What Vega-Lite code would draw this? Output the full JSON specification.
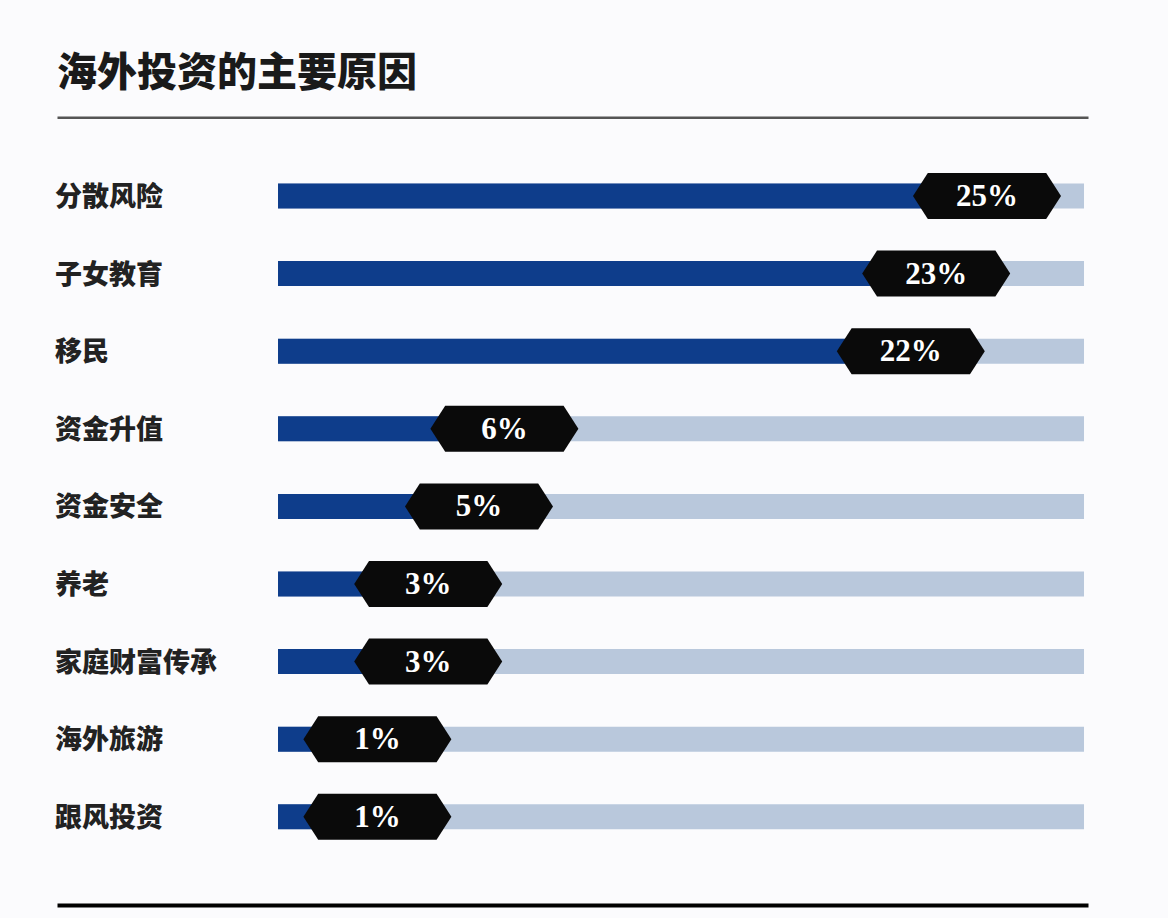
{
  "$schema": "https://vega.github.io/schema/vega-lite/v6.json",
  "autosize": {"type": "none"},
  "width": 1031,
  "height": 698.4,
  "padding": {"left": 57, "top": 157.2, "right": 80, "bottom": 62.4},
  "background": "#fbfbfd",
  "title": {
    "text": "海外投资的主要原因",
    "anchor": "start",
    "frame": "group",
    "font": "Noto Sans CJK SC",
    "fontSize": 40,
    "fontWeight": 900,
    "color": "#1a1a1a",
    "offset": 23
  },
  "data": {
    "values": [
      {"reason": "分散风险", "share": 0.25},
      {"reason": "子女教育", "share": 0.23},
      {"reason": "移民", "share": 0.22},
      {"reason": "资金升值", "share": 0.06},
      {"reason": "资金安全", "share": 0.05},
      {"reason": "养老", "share": 0.03},
      {"reason": "家庭财富传承", "share": 0.03},
      {"reason": "海外旅游", "share": 0.01},
      {"reason": "跟风投资", "share": 0.01}
    ]
  },
  "encoding": {
    "y": {
      "field": "reason",
      "type": "nominal",
      "sort": null,
      "axis": null,
      "scale": {"paddingInner": 0, "paddingOuter": 0}
    }
  },
  "layer": [
    {
      "mark": {"type": "point", "opacity": 0},
      "encoding": {
        "x": {
          "field": "share",
          "type": "quantitative",
          "scale": {"domain": [-0.11614, 0.28976], "nice": false, "zero": false},
          "axis": {"orient": "top", "domain": true, "domainColor": "#555555", "domainWidth": 2.5, "ticks": false, "labels": false, "grid": false, "title": null, "offset": 40}
        }
      }
    },
    {
      "mark": {"type": "bar", "color": "#b9c8dc", "size": 25, "orient": "horizontal"},
      "encoding": {
        "x": {"datum": 0.28819, "type": "quantitative", "axis": null},
        "x2": {"datum": -0.02913}
      }
    },
    {
      "mark": {"type": "bar", "color": "#0e3d8b", "size": 25, "orient": "horizontal"},
      "encoding": {
        "x": {"field": "share", "type": "quantitative", "axis": null},
        "x2": {"datum": -0.02913}
      }
    },
    {
      "mark": {
        "type": "point",
        "shape": "M -1 0 L -0.8 -0.311 L 0.8 -0.311 L 1 0 L 0.8 0.311 L -0.8 0.311 Z",
        "size": 21904,
        "filled": true,
        "color": "#0a0a0a",
        "opacity": 1
      },
      "encoding": {
        "x": {
          "field": "share",
          "type": "quantitative",
          "axis": {"orient": "bottom", "domain": true, "domainColor": "#000000", "domainWidth": 4, "ticks": false, "labels": false, "grid": false, "title": null, "offset": 49.4}
        }
      }
    },
    {
      "mark": {
        "type": "text",
        "font": "Liberation Serif",
        "fontSize": 31,
        "fontWeight": "bold",
        "color": "#ffffff",
        "align": "center",
        "baseline": "middle",
        "dy": 1
      },
      "encoding": {
        "x": {"field": "share", "type": "quantitative", "axis": null},
        "text": {"field": "share", "type": "quantitative", "format": ".0%"}
      }
    },
    {
      "mark": {
        "type": "text",
        "font": "Noto Sans CJK SC",
        "fontSize": 27,
        "fontWeight": 900,
        "color": "#222222",
        "align": "left",
        "baseline": "middle",
        "dx": -2,
        "dy": 2
      },
      "encoding": {
        "x": {"datum": -0.11614, "type": "quantitative", "axis": null},
        "text": {"field": "reason", "type": "nominal"}
      }
    }
  ],
  "resolve": {"axis": {"x": "independent"}},
  "config": {"view": {"stroke": null}}
}
